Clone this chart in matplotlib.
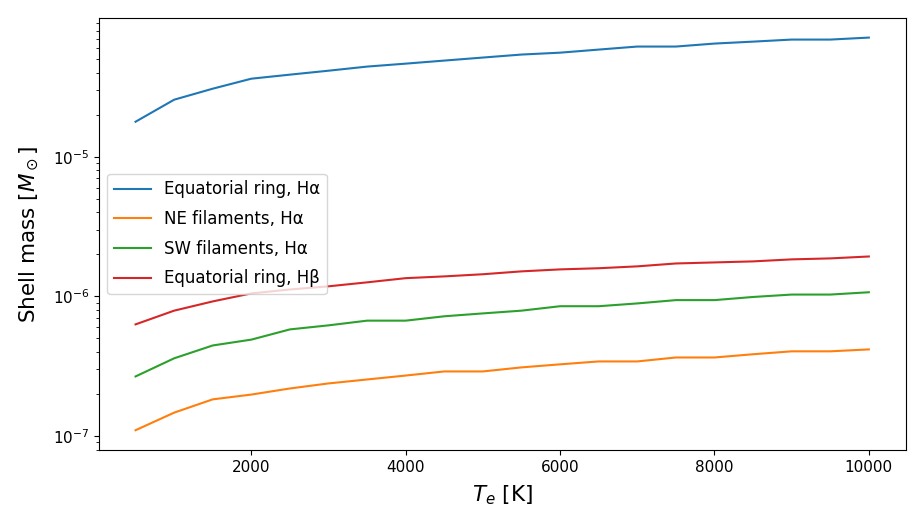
import numpy as np
from matplotlib import pyplot as plt

temps = np.arange(500, 10001, 500)

ring_ha = [1.78e-5, 2.56e-5, 3.07e-5, 3.62e-5, 3.87e-5, 4.13e-5, 4.42e-5, 4.64e-5, 4.88e-5, 5.13e-5,
           5.39e-5, 5.56e-5, 5.85e-5, 6.15e-5, 6.15e-5, 6.46e-5, 6.67e-5, 6.90e-5, 6.90e-5, 7.13e-5]
ne_ha = [1.10e-7, 1.47e-7, 1.83e-7, 1.98e-7, 2.19e-7, 2.38e-7, 2.54e-7, 2.71e-7, 2.90e-7, 2.90e-7,
         3.10e-7, 3.26e-7, 3.42e-7, 3.42e-7, 3.65e-7, 3.65e-7, 3.85e-7, 4.04e-7, 4.04e-7, 4.17e-7]
sw_ha = [2.67e-7, 3.60e-7, 4.45e-7, 4.90e-7, 5.80e-7, 6.20e-7, 6.70e-7, 6.70e-7, 7.20e-7, 7.55e-7,
         7.90e-7, 8.50e-7, 8.50e-7, 8.90e-7, 9.40e-7, 9.40e-7, 9.90e-7, 1.03e-6, 1.03e-6, 1.07e-6]
ring_hb = [6.3e-7, 7.9e-7, 9.2e-7, 1.05e-6, 1.12e-6, 1.18e-6, 1.26e-6, 1.35e-6, 1.39e-6, 1.44e-6,
           1.51e-6, 1.56e-6, 1.59e-6, 1.64e-6, 1.72e-6, 1.75e-6, 1.78e-6, 1.84e-6, 1.87e-6, 1.93e-6]

labels = ['Equatorial ring, Hα', 'NE filaments, Hα', 'SW filaments, Hα', 'Equatorial ring, Hβ']

fig, ax = plt.subplots(figsize=(9.24, 5.28), dpi=100)
for series, lab in zip([ring_ha, ne_ha, sw_ha, ring_hb], labels):
    ax.plot(temps, series, label=lab)
ax.set_yscale('log')
ax.set_xlabel(r'$T_e$ [K]', fontsize=15.5, labelpad=6)
ax.set_ylabel(r'Shell mass [$M_\odot$]', fontsize=15.5, labelpad=8)
ax.tick_params(labelsize=11)
ax.legend(loc='center left', fontsize=12, labelspacing=0.7, handlelength=2.2)
fig.subplots_adjust(left=0.107, right=0.98, top=0.966, bottom=0.148)
fig.savefig('out.png', dpi=100)
